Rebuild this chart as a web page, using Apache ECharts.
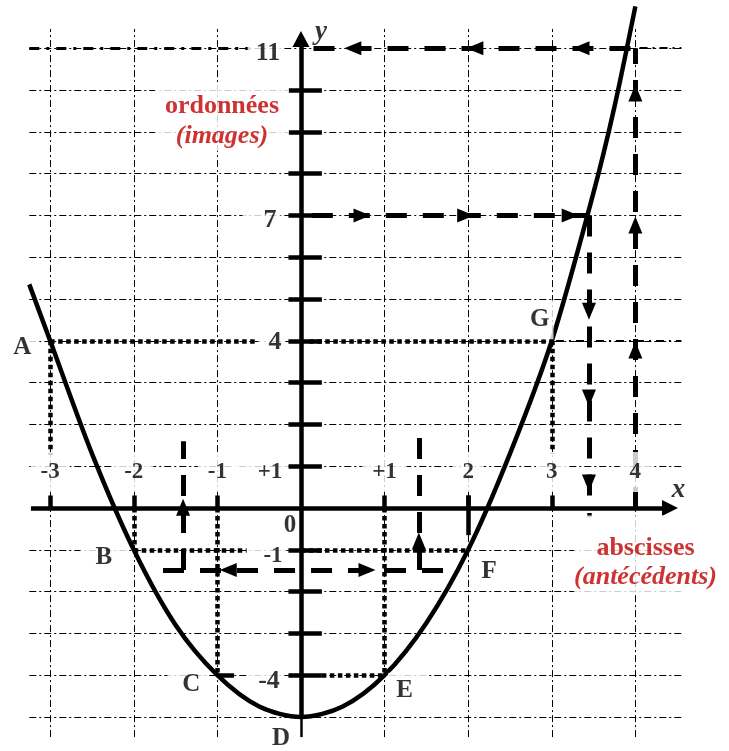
<!DOCTYPE html>
<html><head><meta charset="utf-8">
<script src="https://cdn.jsdelivr.net/npm/echarts@6/dist/echarts.min.js"></script>
<style>html,body{margin:0;padding:0;background:#fff}#c{width:729px;height:751px}</style>
</head><body><div id="c"></div>
<script>
// ---------- data ----------
const curveX = [-3.25, -3, -2.5, -2, -1.5, -1, -0.5, 0, 0.5, 1, 1.5, 2, 2.5, 3, 3.5, 3.75, 4.0];
const curveY = [5.35, 4, 1.3, -1, -2.8, -4, -4.75, -5, -4.75, -4, -2.75, -1, 1.3, 4, 7.55, 9.6, 12];

const pointNames = ['A', 'B', 'C', 'D', 'E', 'F', 'G'];
const pointX = [-3, -2, -1, 0, 1, 2, 3];
const pointY = [4, -1, -4, -5, -4, -1, 4];

const xTickValues = [-3, -2, -1, 1, 2, 3, 4];
const xTickTexts = ['-3', '-2', '-1', '+1', '2', '3', '4'];
const yTickValues = [-4, -3, -2, -1, 1, 2, 3, 4, 5, 6, 7, 8, 9, 10];
const yLabelValues = [11, 7, 4, 1, 0, -1, -4];
const yLabelTexts = ['11', '7', '4', '+1', '0', '-1', '-4'];

const gridXs = [-3, -2, -1, 1, 2, 3, 4];
const gridYs = [-5, -4, -3, -2, -1, 1, 2, 3, 4, 5, 6, 7, 8, 9, 10, 11];

// images read on the y axis and the antecedents found on the x axis
const imageHigh = 11, antecedentHigh = 4;
const imageMid = 7, antecedentMid = 3.445;
const imageLow = -1.48, antecedentLowL = -1.41, antecedentLowR = 1.41;

// arrow heads along the construction lines
const arrowsLeft = [[0.62, 11], [2.08, 11], [3.35, 11], [-0.87, -1.48]];
const arrowsRight = [[0.73, 7], [1.97, 7], [3.22, 7], [0.79, -1.48]];
const arrowsUp = [[4, 3.78], [4, 6.77], [4, 9.93], [-1.41, 0.02], [1.41, -0.79]];
const arrowsDown = [[3.445, 4.71], [3.445, 2.63], [3.445, 0.6]];

// ---------- chart ----------
const FONT = '"Liberation Serif","Times New Roman",serif';
const RED = '#c00000';
const chart = echarts.init(document.getElementById('c'), null, { renderer: 'canvas' });

function seg(a, b) { return { coords: [a, b] }; }
function linesSeries(data, style, z) {
  return {
    type: 'lines', coordinateSystem: 'cartesian2d', polyline: false, silent: true, z: z,
    animation: false, symbol: 'none', effect: { show: false },
    lineStyle: Object.assign({ color: '#000', opacity: 1, curveness: 0, cap: 'butt' }, style),
    data: data
  };
}
function arrowSeries(pts, rot, size) {
  return {
    type: 'scatter', symbol: 'triangle', symbolSize: size || [14, 17], silent: true, z: 6, animation: false,
    itemStyle: { color: '#000', opacity: 1 },
    data: pts.map(p => ({ value: p, symbolRotate: rot }))
  };
}
function adj(off, pad) { return [off[0] - (pad[3] - pad[1]) / 2, off[1] - (pad[0] - pad[2]) / 2]; }
function lab(value, text, o) {
  const pad = o.pad || [0, 0, 0, 0];
  return {
    value: value,
    label: {
      show: true, position: 'inside', formatter: text,
      offset: adj(o.offset, pad), padding: pad,
      backgroundColor: o.bg === false ? 'transparent' : '#fff',
      fontFamily: FONT, fontWeight: 'bold', fontStyle: o.italic ? 'italic' : 'normal',
      fontSize: o.size, lineHeight: o.lh || o.size, color: o.color || '#000'
    }
  };
}

// label layout (offsets in px from the anchor point)
const xLabelStyle = { offset: [0, -32], pad: [12, 10, 4, 10], size: 23, lh: 24 };
const yLabelLayout = {
  '11': { offset: [-33, 5], pad: [4, 4, 4, 8], size: 26 },
  '7': { offset: [-31, 5], pad: [4, 4, 4, 21], size: 26 },
  '4': { offset: [-26, 1], pad: [4, 4, 4, 10], size: 26 },
  '+1': { offset: [-31, 10], pad: [12, 6, 4, 24], size: 23, lh: 24 },
  '0': { offset: [-11, 18], size: 25, bg: false },
  '-1': { offset: [-28, 8], pad: [4, 4, 0, 16], size: 23, lh: 20 },
  '-4': { offset: [-32, 8], pad: [4, 4, 0, 11], size: 26 }
};
const pointLayout = {
  A: { offset: [-28, 7], pad: [4, 8, 4, 8] },
  B: { offset: [-30, 8], pad: [4, 15, 4, 15] },
  C: { offset: [-26, 8], pad: [2, 6, 4, 15] },
  D: { offset: [-20, 22], bg: false },
  E: { offset: [20, 18], pad: [8, 14, 2, 8] },
  F: { offset: [21, 22], pad: [3, 6, 3, 6] },
  G: { offset: [-12, -18], pad: [10, 4, 4, 6] }
};

const labelData = [];
xTickValues.forEach((v, i) => labelData.push(lab([v, 0], xTickTexts[i], xLabelStyle)));
yLabelValues.forEach((v, i) => labelData.push(lab([0, v], yLabelTexts[i], yLabelLayout[yLabelTexts[i]])));
pointNames.forEach((n, i) => labelData.push(lab([pointX[i], pointY[i]], n, Object.assign({ size: 25 }, pointLayout[n]))));
labelData.push(lab([antecedentHigh + 0.42, 0], 'x', { offset: [8, -18], size: 27, italic: true, bg: false }));
labelData.push(lab([0, 11.22], 'y', { offset: [20, -7], size: 27, italic: true, bg: false }));

// red captions (boxes in white like in the original)
const captionData = [
  {
    value: [-0.945, 9.342],
    label: {
      show: true, position: 'inside', formatter: '{a|ordonnées}\n{b|(images)}',
      backgroundColor: '#fff', padding: [7, 10, 0, 10], offset: [0, 0],
      rich: {
        a: { fontFamily: FONT, fontWeight: 'bold', fontSize: 26, lineHeight: 30, color: RED },
        b: { fontFamily: FONT, fontWeight: 'bold', fontStyle: 'italic', fontSize: 26, lineHeight: 30, color: RED }
      }
    }
  },
  {
    value: [4.193, -1.113],
    label: {
      show: true, position: 'inside', formatter: '{a|abscisses}\n{b|(antécédents)}',
      backgroundColor: '#fff', padding: [18, 12, 2, 0], offset: [0, 0],
      rich: {
        a: { fontFamily: FONT, fontWeight: 'bold', fontSize: 26, lineHeight: 29, color: RED },
        b: { fontFamily: FONT, fontWeight: 'bold', fontStyle: 'italic', fontSize: 26, lineHeight: 29, color: RED }
      }
    }
  }
];

const X0 = -3.25, X1 = 4.55, Y0 = -5.48, Y1 = 11.46;
const thinGrid = gridYs.map(y => seg([X0, y], [X1, y])).concat(gridXs.map(x => seg([x, Y0], [x, Y1])));

const dotted = [
  seg([-3, 4], [-0.52, 4]), seg([0.1, 4], [3, 4]),
  seg([-3, 4], [-3, 1.27]), seg([3, 4], [3, 1.3]),
  seg([-2, -1], [-0.65, -1]), seg([0, -1], [2, -1]),
  seg([-2, 0], [-2, -1]), seg([-1, 0], [-1, -4]), seg([1, 0], [1, -4]),
  seg([0.25, -4], [1, -4])
];

const thickDashed = [
  seg([0.15, imageHigh], [antecedentHigh, imageHigh]),
  seg([antecedentHigh, 0], [antecedentHigh, imageHigh]),
  seg([0.13, imageMid], [antecedentMid, imageMid]),
  seg([antecedentMid, imageMid], [antecedentMid, 0]),
  seg([-1.65, imageLow], [1.72, imageLow]),
  seg([antecedentLowL, imageLow], [antecedentLowL, 1.6]),
  seg([antecedentLowR, imageLow], [antecedentLowR, 1.7])
];

const ticks = xTickValues.map(x => seg([x, -0.05], [x, 0.3]))
  .concat(yTickValues.map(y => seg([-0.15, y], [0.25, y])))
  .concat([seg([2, 0.3], [2, -0.65]), seg([-1, -4], [-0.8, -4]), seg([antecedentMid, -0.12], [antecedentMid, -0.22])]);

const option = {
  animation: false,
  backgroundColor: '#fff',
  grid: { left: 0, right: 0, top: 0, bottom: 0 },
  xAxis: { type: 'value', min: -3.6, max: 5.12, show: false },
  yAxis: { type: 'value', min: -5.813, max: 12.153, show: false },
  series: [
    linesSeries(thinGrid, { width: 1, type: [7, 3, 2, 3] }, 1),
    linesSeries([seg([X0, 11], [-0.61, 11])], { width: 3, type: [10, 7, 3, 7] }, 2),
    linesSeries([seg([4.05, 11], [X1, 11]), seg([3.05, 4], [X1, 4])], { width: 2, type: [8, 5, 2, 5] }, 2),
    linesSeries(dotted, { width: 4.5, type: [4.5, 3.5] }, 3),
    linesSeries(thickDashed, { width: 5, type: [21, 16] }, 3),
    linesSeries(ticks, { width: 4.5 }, 4),
    linesSeries([seg([-3.23, 0], [4.36, 0]), seg([0, -5], [0, 11.15])], { width: 4.5 }, 4),
    linesSeries([seg([0, -5.48], [0, -5])], { width: 2.5 }, 4),
    {
      type: 'line', data: curveX.map((x, i) => [x, curveY[i]]), smooth: 0.3, showSymbol: false,
      symbol: 'none', clip: false, silent: true, z: 5, animation: false,
      lineStyle: { color: '#000', width: 4.5 }
    },
    arrowSeries(arrowsLeft, 90),
    arrowSeries(arrowsRight, -90),
    arrowSeries(arrowsUp, 0),
    arrowSeries(arrowsDown, 180),
    arrowSeries([[4.414, 0]], -90, [16, 16]),
    arrowSeries([[0, 11.22]], 0, [17, 16]),
    {
      type: 'scatter', symbolSize: 1, itemStyle: { color: 'rgba(0,0,0,0)' }, silent: true, z: 10,
      animation: false, data: labelData
    },
    {
      type: 'scatter', symbolSize: 1, itemStyle: { color: 'rgba(0,0,0,0)' }, silent: true, z: 10,
      animation: false, data: captionData
    }
  ]
};
chart.setOption(option);
</script>
</body></html>
